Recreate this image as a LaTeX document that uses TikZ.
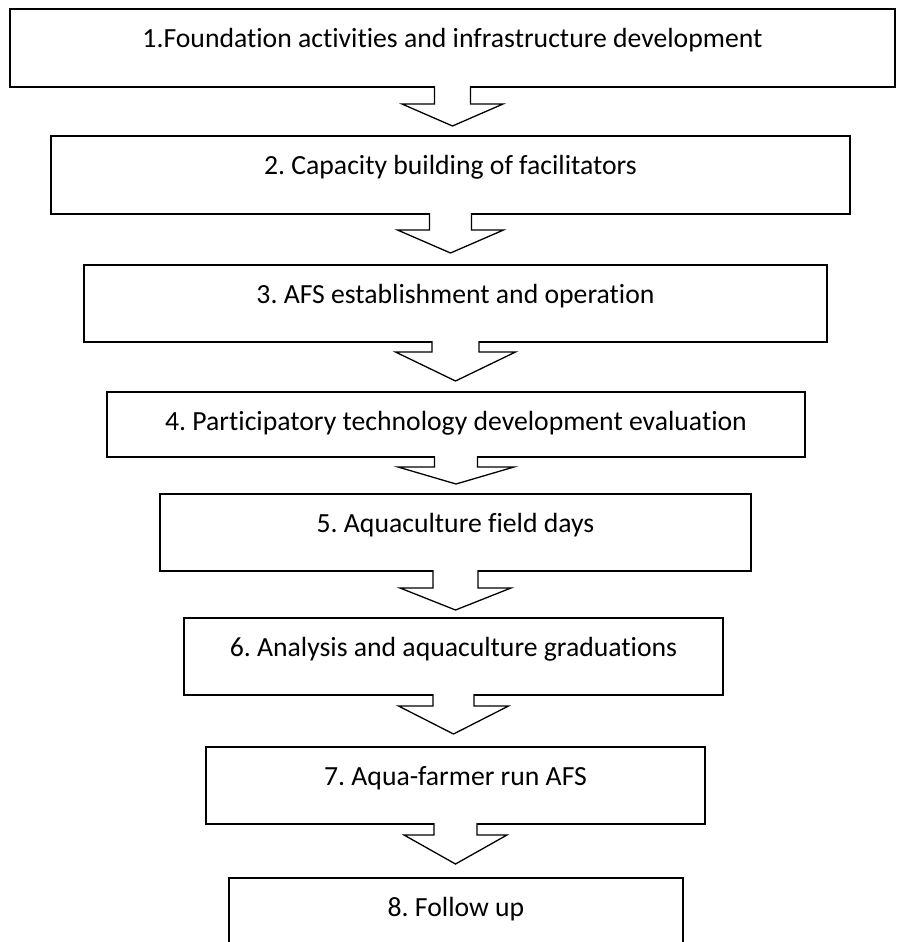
\documentclass[tikz,border=0pt]{standalone}
\usepackage{fontspec}
\setmainfont{Carlito}[Ligatures=NoCommon]
\usetikzlibrary{calc}
\frenchspacing
\tikzset{
  boxnode/.style={draw=black, line width=1.6pt, rectangle, inner sep=0pt, outer sep=0pt, anchor=north west, fill=white},
  boxtext/.style={anchor=base, inner sep=0pt, font=\fontsize{27.7}{33}\selectfont},
  arrowline/.style={draw=black, line width=1.3pt, line join=miter},
}
% #1 node, #2 stem half width, #3 stem length, #4 head half width, #5 head length
\newcommand\flowarrow[5]{%
  \fill[white] ($(#1.south)+(-#2,-2)$) -- ($(#1.south)+(-#2,#3)$) -- ($(#1.south)+(-#4,#3)$)
    -- ($(#1.south)+(0,{#3+#5})$) -- ($(#1.south)+(#4,#3)$) -- ($(#1.south)+(#2,#3)$)
    -- ($(#1.south)+(#2,-2)$) -- cycle;
  \draw[arrowline] ($(#1.south)+(-#2,-0.8)$) -- ($(#1.south)+(-#2,#3)$) -- ($(#1.south)+(-#4,#3)$)
    -- ($(#1.south)+(0,{#3+#5})$) -- ($(#1.south)+(#4,#3)$) -- ($(#1.south)+(#2,#3)$)
    -- ($(#1.south)+(#2,-0.8)$);
}
\begin{document}
\begin{tikzpicture}[x=1pt,y=-1pt]
\useasboundingbox (0,0) rectangle (899,942);
\fill[white] (0,0) rectangle (899,942);
\clip (0,0) rectangle (899,942);

\node[boxnode, minimum width=885pt, minimum height=78pt] (b1) at (10,9) {};
\node[boxnode, minimum width=799pt, minimum height=78pt] (b2) at (51,136) {};
\node[boxnode, minimum width=743pt, minimum height=77pt] (b3) at (84,265) {};
\node[boxnode, minimum width=698pt, minimum height=65pt] (b4) at (107,392) {};
\node[boxnode, minimum width=591pt, minimum height=77pt] (b5) at (160,494) {};
\node[boxnode, minimum width=539pt, minimum height=77pt] (b6) at (184,618) {};
\node[boxnode, minimum width=499pt, minimum height=77pt] (b7) at (206,747) {};
\node[boxnode, line width=2.4pt, minimum width=454pt, minimum height=100pt] (b8) at (229,878) {};

\flowarrow{b1}{18}{17}{50.5}{22}
\flowarrow{b2}{21}{16}{53}{23}
\flowarrow{b3}{23.5}{10}{60}{29}
\flowarrow{b4}{21.5}{10}{58}{17}
\flowarrow{b5}{22.5}{17}{55.5}{22}
\flowarrow{b6}{20.5}{11}{55}{28}
\flowarrow{b7}{21.5}{11}{51.5}{29}

\node[boxtext] (t1) at ($(b1.north)+(0,38.5)$) {1.Foundation activities and infrastructure development};
\node[boxtext] (t2) at ($(b2.north)+(0,38.5)$) {2. Capacity building of facilitators};
\node[boxtext] (t3) at ($(b3.north)+(0,38.5)$) {3. AFS establishment and operation};
\node[boxtext] (t4) at ($(b4.north)+(0,38.5)$) {4. Participatory technology development evaluation};
\node[boxtext] (t5) at ($(b5.north)+(0,38.5)$) {5. Aquaculture field days};
\node[boxtext] (t6) at ($(b6.north)+(0,38.5)$) {6. Analysis and aquaculture graduations};
\node[boxtext] (t7) at ($(b7.north)+(0,38.5)$) {7. Aqua-farmer run AFS};
\node[boxtext] (t8) at ($(b8.north)+(0,38.5)$) {8. Follow up};
\end{tikzpicture}
\end{document}
